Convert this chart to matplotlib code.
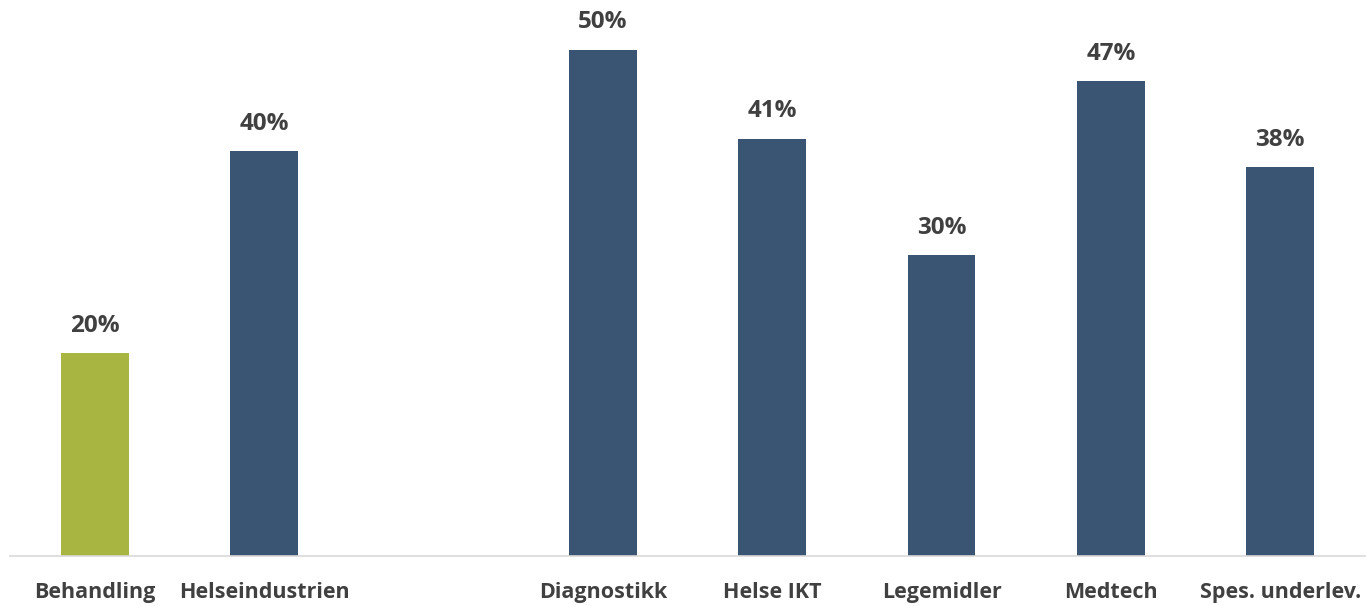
import matplotlib
matplotlib.use("Agg")
import matplotlib.pyplot as plt

# Data
categories = ["Behandling", "Helseindustrien", "", "Diagnostikk", "Helse IKT",
              "Legemidler", "Medtech", "Spes. underlev."]
values = [20.0, 40.0, None, 50.0, 41.2, 29.7, 46.9, 38.4]
colors = ["#A8B540", "#3A5573", "#3A5573", "#3A5573", "#3A5573",
          "#3A5573", "#3A5573", "#3A5573"]

text_color = "#404040"
plt.rcParams["font.family"] = ["Open Sans", "DejaVu Sans"]

fig = plt.figure(figsize=(13.71, 6.06), dpi=100)
ax = fig.add_axes([10 / 1371, 1 - 556 / 606, 1355 / 1371, 547 / 606])

xs = [i for i, v in enumerate(values) if v is not None]
vals = [values[i] for i in xs]
cols = [colors[i] for i in xs]
bars = ax.bar(xs, vals, width=0.4, color=cols, zorder=2)

for x, v in zip(xs, vals):
    ax.text(x, v + 1.5, f"{round(v):.0f}%", ha="center", va="bottom",
            fontsize=17.5, fontweight="bold", color=text_color)

ax.set_xlim(-0.5, 7.5)
ax.set_ylim(0, 54)
ax.set_xticks(range(len(categories)))
ax.set_xticklabels(categories, fontsize=15.5, fontweight="bold", color=text_color)
ax.tick_params(axis="x", length=0, pad=19)
ax.set_yticks([])
for side in ["top", "right", "left"]:
    ax.spines[side].set_visible(False)
ax.spines["bottom"].set_color("#D9D9D9")
ax.spines["bottom"].set_linewidth(1.2)

fig.savefig("out.png", dpi=100)
